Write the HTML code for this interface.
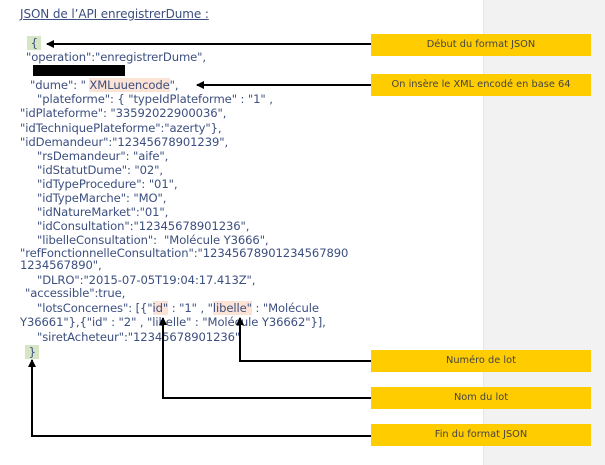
<!DOCTYPE html>
<html><head><meta charset="utf-8"><style>
body{margin:0;width:605px;height:465px;background:#fff;position:relative;overflow:hidden;font-family:"DejaVu Sans","Liberation Sans",sans-serif}
.gray{position:absolute;left:483px;top:0;width:122px;height:465px;background:#f2f2f2;border-left:1px solid #e6e6e6}
.t{position:absolute;font-size:11.6px;color:#3d4f80;white-space:pre;line-height:14px;letter-spacing:-0.1px}
.box{position:absolute;left:371px;width:220px;height:22px;background:#ffcc00;color:#444;font-size:9.8px;text-align:center;line-height:22px}
.hg{background:#d6e6c4}.hp{background:#fbe3d6}
</style></head><body>
<div class="gray"></div>
<div class="t" style="left:20px;top:7px;text-decoration:underline;font-size:12px">JSON de l’API enregistrerDume :</div>
<div class="t" style="left:27px;top:36px"><span class="hg">&nbsp;{&nbsp;</span></div>
<div class="t" style="left:26px;top:50px">"operation":"enregistrerDume",</div>
<div style="position:absolute;left:33px;top:65px;width:92px;height:11px;background:#000"></div>
<div class="t" style="left:30px;top:78px">"dume": " <span class="hp">XMLuuencode</span>",</div>
<div class="t" style="left:37px;top:92px">"plateforme": { "typeIdPlateforme" : "1" ,</div>
<div class="t" style="left:20px;top:106px">"idPlateforme": "33592022900036",</div>
<div class="t" style="left:20px;top:121px">"idTechniquePlateforme":"azerty"},</div>
<div class="t" style="left:20px;top:135px">"idDemandeur":"12345678901239",</div>
<div class="t" style="left:37px;top:149px">"rsDemandeur": "aife",</div>
<div class="t" style="left:37px;top:163px">"idStatutDume": "02",</div>
<div class="t" style="left:37px;top:177px">"idTypeProcedure": "01",</div>
<div class="t" style="left:37px;top:191px">"idTypeMarche": "MO",</div>
<div class="t" style="left:37px;top:205px">"idNatureMarket":"01",</div>
<div class="t" style="left:37px;top:219px">"idConsultation":"12345678901236",</div>
<div class="t" style="left:37px;top:233px">"libelleConsultation":  "Molécule Y3666",</div>
<div class="t" style="left:20px;top:246px">"refFonctionnelleConsultation":"12345678901234567890</div>
<div class="t" style="left:20px;top:258px">1234567890",</div>
<div class="t" style="left:37px;top:273px">"DLRO":"2015-07-05T19:04:17.413Z",</div>
<div class="t" style="left:25px;top:286px">"accessible":true,</div>
<div class="t" style="left:37px;top:301px">"lotsConcernes": [{"<span class="hp">id"</span> : "1" , "<span class="hp">libelle"</span> : "Molécule</div>
<div class="t" style="left:20px;top:315px">Y36661"},{"id" : "2" , "libelle" : "Molécule Y36662"}],</div>
<div class="t" style="left:37px;top:330px">"siretAcheteur":"12345678901236"</div>
<div class="t" style="left:25px;top:345px"><span class="hg">&nbsp;}&nbsp;</span></div>
<svg width="605" height="465" style="position:absolute;left:0;top:0">
<defs><marker id="a" markerWidth="8" markerHeight="8" refX="7" refY="4" orient="auto" markerUnits="userSpaceOnUse"><path d="M0,0L8,4L0,8z" fill="#000"/></marker></defs>
<g stroke="#000" stroke-width="2" fill="none">
<line x1="371" y1="44" x2="47" y2="44" marker-end="url(#a)"/>
<line x1="371" y1="85" x2="197" y2="85" marker-end="url(#a)"/>
<polyline points="371,361 240,361 240,318" marker-end="url(#a)"/>
<polyline points="371,398 163,398 163,318" marker-end="url(#a)"/>
<polyline points="371,436 32,436 32,360" marker-end="url(#a)"/>
</g></svg>
<div class="box" style="top:34px">Début du format JSON</div>
<div class="box" style="top:74px">On insère le XML encodé en base 64</div>
<div class="box" style="top:350px">Numéro de lot</div>
<div class="box" style="top:387px">Nom du lot</div>
<div class="box" style="top:424px">Fin du format JSON</div>
</body></html>
